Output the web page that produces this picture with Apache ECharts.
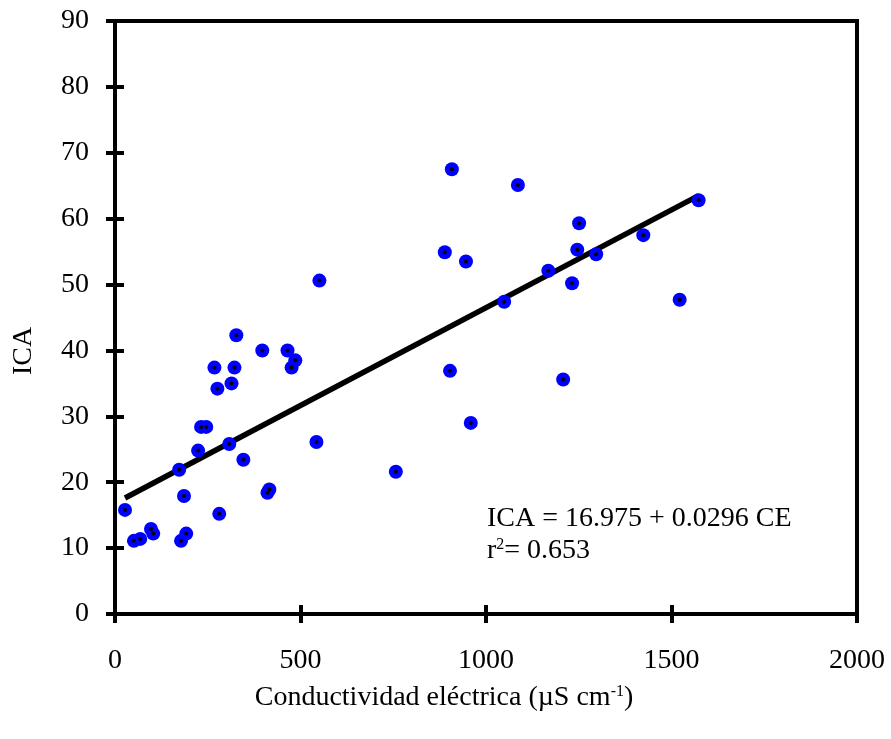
<!DOCTYPE html>
<html>
<head>
<meta charset="utf-8">
<script src="https://cdn.jsdelivr.net/npm/echarts@6/dist/echarts.min.js"></script>
<style>
html,body{margin:0;padding:0;background:#fff;}
#chart{width:891px;height:739px;}
</style>
</head>
<body>
<div id="chart"></div>
<script>
// Conductividad eléctrica (µS/cm) values
var ceValues = [27, 51, 68, 97, 103, 173, 178, 186, 192, 224, 232, 246, 268, 276, 281, 308, 314, 322, 327, 346, 397, 411, 416, 465, 476, 486, 543, 551, 757, 889, 903, 908, 946, 959, 1049, 1086, 1168, 1208, 1232, 1246, 1251, 1297, 1424, 1522, 1573];
// ICA values
var icaValues = [15.8, 11.1, 11.4, 12.9, 12.2, 21.9, 11.1, 17.9, 12.2, 24.8, 28.4, 28.4, 37.4, 34.2, 15.2, 25.8, 35.0, 37.4, 42.3, 23.4, 40.0, 18.4, 18.9, 40.0, 37.4, 38.5, 26.1, 50.6, 21.6, 54.9, 36.9, 67.5, 53.5, 29.0, 47.4, 65.1, 52.1, 35.6, 50.2, 55.3, 59.3, 54.6, 57.5, 47.7, 62.8];
// regression line endpoints
var lineX = [27, 1573];
var lineY = [17.6, 63.5];
var xTicks = [0, 500, 1000, 1500, 2000];
var yTicks = [0, 10, 20, 30, 40, 50, 60, 70, 80, 90];

var pts = ceValues.map(function (x, i) { return [x, icaValues[i]]; });
var linePts = lineX.map(function (x, i) { return [x, lineY[i]]; });

var FONT = 'Liberation Serif';
var FS = 28;
var chart = echarts.init(document.getElementById('chart'), null, {renderer: 'canvas'});
var grid = {left: 115, top: 21, right: 34, bottom: 125, show: true, borderColor: '#000', borderWidth: 4, backgroundColor: 'transparent'};

function xAxisBase(inside, labels) {
  return {
    type: 'value', min: xTicks[0], max: xTicks[xTicks.length - 1], interval: 500,
    position: 'bottom',
    axisLine: {show: labels, lineStyle: {color: '#000', width: 4}},
    axisTick: {show: true, inside: inside, length: 9, lineStyle: {color: '#000', width: 4}},
    axisLabel: {show: labels, margin: 33, color: '#000', fontFamily: FONT, fontSize: FS,
      formatter: function (v) { return String(v); }},
    splitLine: {show: false}
  };
}
function yAxisBase(inside, labels) {
  return {
    type: 'value', min: yTicks[0], max: yTicks[yTicks.length - 1], interval: 10,
    position: 'left',
    axisLine: {show: labels, lineStyle: {color: '#000', width: 4}},
    axisTick: {show: true, inside: inside, length: 9, lineStyle: {color: '#000', width: 4}},
    axisLabel: {show: labels, margin: 26, color: '#000', fontFamily: FONT, fontSize: FS,
      formatter: function (v) { return String(v); }},
    splitLine: {show: false}
  };
}

chart.setOption({
  animation: false,
  backgroundColor: '#fff',
  grid: grid,
  xAxis: [xAxisBase(false, true), xAxisBase(true, false)],
  yAxis: [yAxisBase(false, true), yAxisBase(true, false)],
  series: [
    {
      type: 'line', data: linePts, xAxisIndex: 0, yAxisIndex: 0,
      showSymbol: false, symbol: 'none',
      lineStyle: {color: '#000', width: 5.5}, z: 3
    },
    {
      type: 'scatter', data: pts, xAxisIndex: 0, yAxisIndex: 0,
      symbol: 'circle', symbolSize: 14,
      itemStyle: {color: '#0000ff', opacity: 1}, z: 4
    },
    {
      type: 'scatter', data: pts, xAxisIndex: 0, yAxisIndex: 0,
      symbol: 'circle', symbolSize: 4,
      itemStyle: {color: '#000', opacity: 1}, z: 5, silent: true
    }
  ],
  graphic: [
    {
      type: 'text', rotation: Math.PI / 2,
      style: {text: 'ICA', fontFamily: FONT, fontSize: FS, fill: '#000', align: 'center', verticalAlign: 'middle'},
      x: 24, y: 351
    },
    {
      type: 'text', x: 444, y: 698,
      style: {
        text: 'Conductividad eléctrica (µS cm{sup|-1})',
        fontFamily: FONT, fontSize: FS, fill: '#000', align: 'center', verticalAlign: 'middle',
        rich: {sup: {fontFamily: FONT, fontSize: 16, padding: [0, 0, 13, 0]}}
      }
    },
    {
      type: 'text', x: 487, y: 519,
      style: {text: 'ICA = 16.975 + 0.0296 CE', fontFamily: FONT, fontSize: FS, fill: '#000', align: 'left', verticalAlign: 'middle'}
    },
    {
      type: 'text', x: 487, y: 551,
      style: {
        text: 'r{sup|2}= 0.653', fontFamily: FONT, fontSize: FS, fill: '#000', align: 'left', verticalAlign: 'middle',
        rich: {sup: {fontFamily: FONT, fontSize: 16, padding: [0, 0, 13, 0]}}
      }
    }
  ]
});
</script>
</body>
</html>
